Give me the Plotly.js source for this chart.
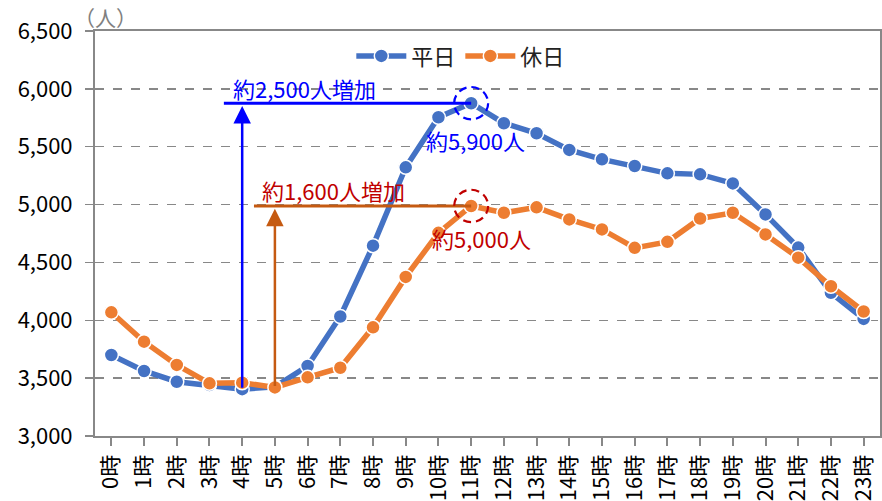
<!DOCTYPE html>
<html><head><meta charset="utf-8">
<script src="https://cdn.plot.ly/plotly-3.0.1.min.js"></script>
<style>html,body{margin:0;padding:0;background:#fff;}#chart{width:882px;height:501px;}</style>
</head><body><div id="chart"></div>
<script>
var hours = ['0時','1時','2時','3時','4時','5時','6時','7時','8時','9時','10時','11時','12時','13時','14時','15時','16時','17時','18時','19時','20時','21時','22時','23時'];
var weekday = [3700,3562,3469,3440,3405,3425,3605,4033,4645,5322,5755,5876,5703,5616,5472,5391,5333,5270,5261,5183,4915,4628,4237,4012];
var holiday = [4069,3815,3614,3455,3461,3420,3507,3590,3939,4375,4756,4988,4929,4976,4872,4785,4626,4678,4880,4929,4742,4541,4294,4076];
var seriesNames = ['平日','休日'];
var yTicks = [3000,3500,4000,4500,5000,5500,6000,6500];

var FONT = '"Noto Sans CJK JP", "Noto Sans", sans-serif';
function argmax(a){var m=0;for(var i=1;i<a.length;i++)if(a[i]>a[m])m=i;return m;}
function argmin(a){var m=0;for(var i=1;i<a.length;i++)if(a[i]<a[m])m=i;return m;}
var wMax=argmax(weekday), wMin=argmin(weekday), hMax=argmax(holiday), hMin=argmin(holiday);
var idx = hours.map(function(_,i){return i;});

var traces = [
 {x:idx, y:weekday, name:seriesNames[0], type:'scatter', mode:'lines+markers',
  line:{color:'#4472C4', width:5.5}, marker:{size:14, color:'#4472C4', line:{color:'#fff', width:1.5}}},
 {x:idx, y:holiday, name:seriesNames[1], type:'scatter', mode:'lines+markers',
  line:{color:'#ED7D31', width:5.5}, marker:{size:14, color:'#ED7D31', line:{color:'#fff', width:1.5}}}
];

var BLUE='#0000FF', BROWN='#C55A11', RED='#C00000';
var rx=0.52, ry=140;
var shapes = [
 {type:'line', xref:'x', yref:'y', x0:wMin-0.56, x1:wMax, y0:weekday[wMax], y1:weekday[wMax], line:{color:BLUE, width:3}, layer:'above'},
 {type:'line', xref:'x', yref:'y', x0:hMin-0.64, x1:hMax, y0:holiday[hMax], y1:holiday[hMax], line:{color:BROWN, width:3}, layer:'above'},
 {type:'circle', xref:'x', yref:'y', x0:wMax-rx, x1:wMax+rx, y0:weekday[wMax]-ry, y1:weekday[wMax]+ry, line:{color:BLUE, width:2.2, dash:'8px,5px'}, layer:'above'},
 {type:'circle', xref:'x', yref:'y', x0:hMax-rx, x1:hMax+rx, y0:holiday[hMax]-ry, y1:holiday[hMax]+ry, line:{color:RED, width:2.2, dash:'8px,5px'}, layer:'above'}
];

var annotations = [
 {x:wMin, y:weekday[wMax]-25, ax:wMin, ay:weekday[wMin], xref:'x', yref:'y', axref:'x', ayref:'y', text:'', showarrow:true, arrowhead:2, arrowsize:1.4, arrowwidth:2.5, arrowcolor:BLUE, standoff:0, startstandoff:0},
 {x:hMin, y:holiday[hMax]-25, ax:hMin, ay:holiday[hMin], xref:'x', yref:'y', axref:'x', ayref:'y', text:'', showarrow:true, arrowhead:2, arrowsize:1.4, arrowwidth:2.5, arrowcolor:BROWN, standoff:0, startstandoff:0},
 {x:5.9, y:6009, xref:'x', yref:'y', text:'約2,500人増加', showarrow:false, font:{family:FONT, size:22, color:BLUE}},
 {x:6.79, y:5126, xref:'x', yref:'y', text:'約1,600人増加', showarrow:false, font:{family:FONT, size:22, color:RED}},
 {x:11.12, y:5558, xref:'x', yref:'y', text:'約5,900人', showarrow:false, font:{family:FONT, size:22, color:BLUE}},
 {x:11.33, y:4710, xref:'x', yref:'y', text:'約5,000人', showarrow:false, font:{family:FONT, size:22, color:RED}},
 {x:(105-95)/785, y:(436-17)/405, xref:'paper', yref:'paper', xanchor:'center', yanchor:'middle', text:'（人）', showarrow:false, font:{family:FONT, size:21, color:'#808080'}}
];

var layout = {
 width:882, height:501,
 margin:{l:95, r:2, t:31, b:65, pad:0},
 paper_bgcolor:'#fff', plot_bgcolor:'#fff',
 font:{family:FONT, size:22, color:'#000'},
 showlegend:true,
 legend:{orientation:'h', x:0.466, xanchor:'center', y:0.938, yanchor:'middle', font:{family:FONT, size:22, color:'#222'}, bgcolor:'rgba(0,0,0,0)', itemwidth:50},
 xaxis:{type:'linear', range:[-0.5, 23.5], tickmode:'array', tickvals:idx, ticktext:hours, tickangle:-90,
   showgrid:false, zeroline:false, showline:true, linecolor:'#888', linewidth:2, mirror:true,
   ticks:'outside', ticklen:8, tickcolor:'#888', tickwidth:2, tickfont:{family:FONT, size:22, color:'#000'}},
 yaxis:{range:[3000, 6500], tickmode:'array', tickvals:yTicks, ticktext:yTicks.map(function(v){return v.toLocaleString('en-US');}),
   showgrid:true, gridcolor:'#888', griddash:'dash', gridwidth:1.5, zeroline:false,
   showline:true, linecolor:'#888', linewidth:2, mirror:true, ticklabelstandoff:8,
   ticks:'outside', ticklen:8, tickcolor:'#888', tickwidth:1.5, tickfont:{family:FONT, size:22, color:'#000'}},
 shapes:shapes, annotations:annotations
};
Plotly.newPlot('chart', traces, layout, {displayModeBar:false, staticPlot:true});
</script></body></html>
